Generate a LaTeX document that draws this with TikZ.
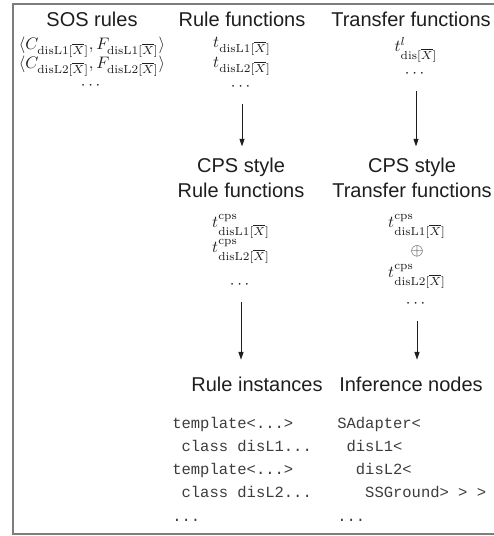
\documentclass[tikz,border=0pt]{standalone}
\usepackage{amsmath}
\usepackage{fontspec}
\setsansfont{Liberation Sans}
\setmonofont{Liberation Mono}
\usetikzlibrary{arrows.meta}
\newcommand{\Xbar}{[\overline{X}]}
\newcommand{\disL}[1]{\mathrm{disL#1}\Xbar}
\definecolor{cEdge}{RGB}{30,30,30}
\definecolor{cCode}{RGB}{60,60,60}
\definecolor{cFrame}{RGB}{125,125,125}

\begin{document}
\begin{tikzpicture}[
  x=0.6pt, y=-0.6pt, color=cEdge,
  head/.style={font=\fontsize{12}{14.6}\selectfont\sffamily, align=center, inner sep=0pt},
  term/.style={font=\fontsize{10}{12}\selectfont, inner sep=0pt},
  code/.style={font=\fontsize{9.3}{11}\selectfont\ttfamily, text=cCode, anchor=base west, inner sep=0pt},
  flow/.style={-{Triangle[length=4.6pt,width=3pt]}, line width=0.6pt},
]
\useasboundingbox (0,0) rectangle (493,536);
\draw[cFrame, line width=0.9pt] (494,4) -- (13,4) -- (13,534) -- (494,534);

% columns: 92 / 241 / 417
% ----- top row -----------------------------------------------------------
\node[head] (sos)  at (92,19)  {SOS rules};
\node[head] (rule) at (242,19) {Rule functions};
\node[head] (tran) at (411,19) {Transfer functions};

\node[term] (sosA)  at (92,47) {$\langle C_{\disL1}, F_{\disL1}\rangle$};
\node[term] (sosB)  at (92,66) {$\langle C_{\disL2}, F_{\disL2}\rangle$};
\node[term] (sosC)  at (92,86) {$\cdots$};

\node[term] (ruleA) at (242,46) {$t_{\disL1}$};
\node[term] (ruleB) at (242,66) {$t_{\disL2}$};
\node[term] (ruleC) at (242,87) {$\cdots$};

\node[term] (tranA) at (416,50) {$t^{l}_{\mathrm{dis}\Xbar}$};
\node[term] (tranC) at (416,74) {$\cdots$};

% ----- CPS row -----------------------------------------------------------
\node[head] (cpsR) at (241,178) {CPS style\\Rule functions};
\node[head] (cpsT) at (412,178) {CPS style\\Transfer functions};

\node[term] (cpsRA) at (241,226) {$t^{\mathrm{cps}}_{\disL1}$};
\node[term] (cpsRB) at (241,251) {$t^{\mathrm{cps}}_{\disL2}$};
\node[term] (cpsRC) at (241,285) {$\cdots$};

\node[term] (cpsTA) at (417,226) {$t^{\mathrm{cps}}_{\disL1}$};
\node[term] (cpsTO) at (417,251) {$\oplus$};
\node[term] (cpsTB) at (417,276) {$t^{\mathrm{cps}}_{\disL2}$};
\node[term] (cpsTC) at (417,304) {$\cdots$};

% ----- instances row -----------------------------------------------------
\node[head] (inst) at (257,384) {Rule instances};
\node[head] (infr) at (411,384) {Inference nodes};

\node[code] (instA) at (172,428) {template<...>};
\node[code] (instB) at (172,451) {\ class disL1...};
\node[code] (instC) at (172,474) {template<...>};
\node[code] (instD) at (172,497) {\ class disL2...};
\node[code] (instE) at (172,521) {...};

\node[code] (infrA) at (337,428) {SAdapter<};
\node[code] (infrB) at (337,451) {\ disL1<};
\node[code] (infrC) at (337,474) {\ \ disL2<};
\node[code] (infrD) at (337,497) {\ \ \ SSGround> > >};
\node[code] (infrE) at (337,521) {...};

% ----- transformations ---------------------------------------------------
\draw[flow, shorten <=8pt, shorten >=7pt] (ruleC) -- (ruleC |- cpsR.north);
\draw[flow, shorten <=8pt, shorten >=7pt] (tranC) -- (tranC |- cpsT.north);
\draw[flow, shorten <=8pt, shorten >=10pt] (cpsRC) -- (cpsRC |- inst.north);
\draw[flow, shorten <=8pt, shorten >=10pt] (cpsTC) -- (cpsTC |- infr.north);

\end{tikzpicture}
\end{document}
